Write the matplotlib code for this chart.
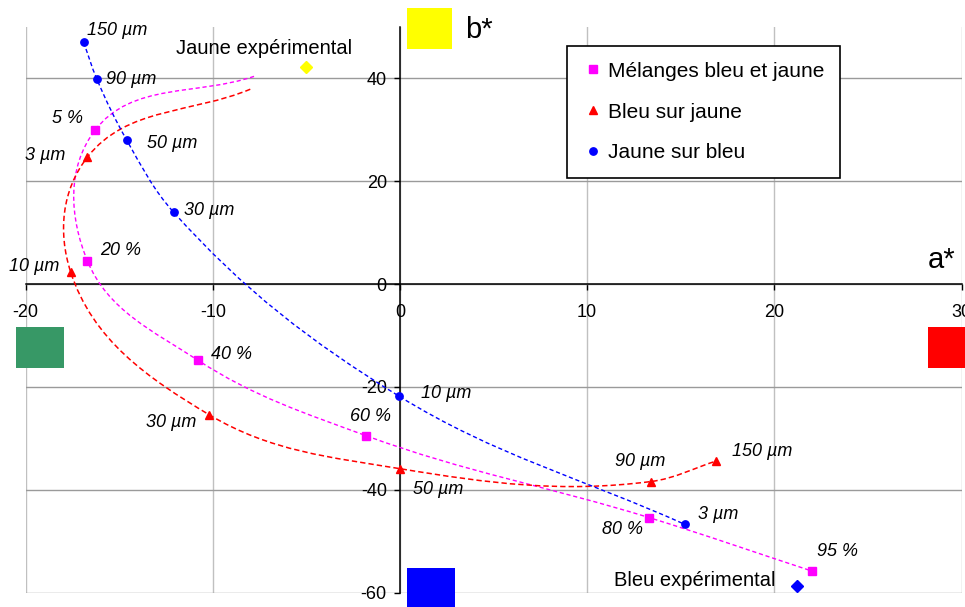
import numpy as np
import matplotlib
matplotlib.use("Agg")
import matplotlib.pyplot as plt
from matplotlib.path import Path
from matplotlib.patches import PathPatch, Rectangle

plt.rcParams.update({
    "font.family": ["Liberation Sans", "DejaVu Sans"],
    "font.size": 13,
    "axes.unicode_minus": False,
})

# ── data (a*, b*) ────────────────────────────────────────────────────────────
mel_lbl = ["5 %", "20 %", "40 %", "60 %", "80 %", "95 %"]
mel_a = [-16.3, -16.7, -10.8, -1.8, 13.3, 22.0]
mel_b = [29.9, 4.5, -14.8, -29.5, -45.4, -55.8]
mel_start = (-7.8, 40.4)      # unmarked start of the smoothed curve

bsj_lbl = ["3 µm", "10 µm", "30 µm", "50 µm", "90 µm", "150 µm"]
bsj_a = [-16.7, -17.6, -10.2, 0.0, 13.4, 16.9]
bsj_b = [24.7, 2.4, -25.4, -35.9, -38.4, -34.4]
bsj_start = (-8.0, 37.9)      # unmarked start of the smoothed curve

jsb_lbl = ["150 µm", "90 µm", "50 µm", "30 µm", "10 µm", "3 µm"]
jsb_a = [-16.9, -16.2, -14.6, -12.1, -0.05, 15.2]
jsb_b = [47.0, 39.9, 28.0, 14.0, -21.8, -46.7]

jaune_exp = (-5.0, 42.3)
bleu_exp = (21.2, -58.8)

# label placement (pixel offsets from the point, ha)
mel_off = [(-12, 12, "right"), (13, 10, "left"), (13, 6, "left"),
           (4, 19, "center"), (-6, -12, "right"), (5, 20, "left")]
bsj_off = [(-22, 2, "right"), (-11, 5, "right"), (-13, -8, "right"),
           (13, -21, "left"), (-11, 20, "center"), (16, 9, "left")]
jsb_off = [(3, 12, "left"), (9, -1, "left"), (20, -3, "left"),
           (10, 2, "left"), (22, 3, "left"), (13, 10, "left")]

MAGENTA, RED, BLUE = "#FF00FF", "#FF0000", "#0000FF"


def smooth_path(ax, xs, ys, k=0.36):
    """Smoothed line through every point (Bezier, tangents in screen space)."""
    tr = ax.transData
    p = tr.transform(np.column_stack([xs, ys]).astype(float))
    n = len(p)
    seg = np.diff(p, axis=0)
    unit = seg / np.hypot(seg[:, 0], seg[:, 1])[:, None]
    tang = []
    for i in range(n):
        t = unit[max(i - 1, 0)] + unit[min(i, n - 2)]
        tang.append(t / np.hypot(*t))
    verts, codes = [p[0]], [Path.MOVETO]
    for i in range(n - 1):
        L = np.hypot(*seg[i])
        verts += [p[i] + tang[i] * L * k, p[i + 1] - tang[i + 1] * L * k, p[i + 1]]
        codes += [Path.CURVE4] * 3
    return Path(tr.inverted().transform(np.array(verts)), codes)


fig = plt.figure(figsize=(9.65, 6.07), dpi=100)
ax = fig.add_axes([0.0266, 0.0237, 0.9698, 0.9318])
ax.set_xlim(-20, 30)
ax.set_ylim(-60, 50)

ax.spines["left"].set_position(("data", 0))
ax.spines["bottom"].set_position(("data", 0))
ax.spines[["top", "right"]].set_visible(False)
for s in ("left", "bottom"):
    ax.spines[s].set_linewidth(1.1)
    ax.spines[s].set_zorder(2.5)

ax.set_xticks(range(-20, 31, 10))
ax.set_yticks(range(-60, 41, 20))
ax.xaxis.grid(True, color="#c0c0c0", lw=1.0)
ax.yaxis.grid(True, color="#9a9a9a", lw=1.0)
ax.set_axisbelow(True)
ax.tick_params(axis="both", direction="out", length=4.5, width=1.0,
               labelsize=13, color="black")
ax.tick_params(axis="x", pad=10)
ax.tick_params(axis="y", pad=5)

# smoothed dashed curves
curves = [
    ([mel_start[0]] + mel_a, [mel_start[1]] + mel_b, MAGENTA, (0, (3, 2)), 1.0),
    ([bsj_start[0]] + bsj_a, [bsj_start[1]] + bsj_b, RED, (0, (3.5, 2)), 1.1),
    (jsb_a, jsb_b, BLUE, (0, (3, 2)), 1.0),
]
for xs, ys, c, ls, lw in curves:
    ax.add_patch(PathPatch(smooth_path(ax, xs, ys), fill=False, edgecolor=c,
                           linestyle=ls, lw=lw, zorder=3))

h1, = ax.plot(mel_a, mel_b, "s", color=MAGENTA, ms=5.3, ls="none", zorder=4,
              label="Mélanges bleu et jaune")
h2, = ax.plot(bsj_a, bsj_b, "^", color=RED, ms=6, ls="none", zorder=4,
              label="Bleu sur jaune")
h3, = ax.plot(jsb_a, jsb_b, "o", color=BLUE, ms=5.3, ls="none", zorder=4,
              label="Jaune sur bleu")

ax.plot(*jaune_exp, "D", color="#FFFF00", ms=6, zorder=4)
ax.plot(*bleu_exp, "D", color=BLUE, ms=6, zorder=4)

for lbls, xs, ys, offs in [(mel_lbl, mel_a, mel_b, mel_off),
                           (bsj_lbl, bsj_a, bsj_b, bsj_off),
                           (jsb_lbl, jsb_a, jsb_b, jsb_off)]:
    for t, x, y, (dx, dy, ha) in zip(lbls, xs, ys, offs):
        ax.annotate(t, (x, y), xytext=(dx, dy), textcoords="offset pixels",
                    ha=ha, va="center", fontsize=13, fontstyle="italic",
                    zorder=5)

ax.annotate("Jaune expérimental", jaune_exp, xytext=(-42, 18),
            textcoords="offset pixels", ha="center", va="center", fontsize=14.5)
ax.annotate("Bleu expérimental", bleu_exp, xytext=(-21, 6),
            textcoords="offset pixels", ha="right", va="center", fontsize=14.5)

leg = ax.legend(handles=[h1, h2, h3], loc="upper left",
                bbox_to_anchor=(567 / 965, 1 - 46 / 607),
                bbox_transform=fig.transFigure, borderaxespad=0,
                fontsize=15, frameon=True, fancybox=False, framealpha=1,
                edgecolor="black", handlelength=1.0, handletextpad=0.2,
                borderpad=0.75, labelspacing=1.05)
leg.get_frame().set_linewidth(1.2)
leg.set_zorder(6)

# colour swatches and axis names (figure pixel positions)
W, H = 965, 607
for x0, y0, x1, y1, c in [(407, 8, 452, 49, "#FFFF00"),
                          (16, 327, 64, 368, "#379866"),
                          (928, 327, 966, 368, "#FF0000"),
                          (407, 568, 455, 608, "#0000FF")]:
    fig.add_artist(Rectangle((x0 / W, 1 - y1 / H), (x1 - x0) / W, (y1 - y0) / H,
                             transform=fig.transFigure, facecolor=c,
                             edgecolor="none", zorder=10))

fig.text(465 / W, 1 - 38 / H, "b*", fontsize=21, va="baseline", ha="left")
fig.text(928 / W, 1 - 268 / H, "a*", fontsize=21, va="baseline", ha="left")

fig.savefig("out.png", dpi=100)
